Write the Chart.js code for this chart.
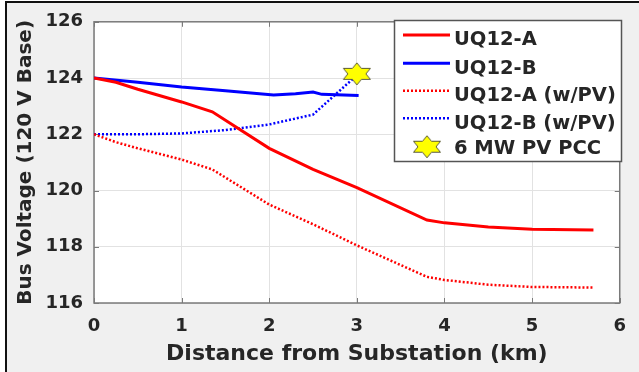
<!DOCTYPE html>
<html>
<head>
<meta charset="utf-8">
<title>Bus Voltage vs Distance</title>
<script src="https://cdn.jsdelivr.net/npm/chart.js@4/dist/chart.umd.min.js"></script>
<style>
    html, body { margin: 0; padding: 0; background: #ffffff; }
    #wrap { width: 639px; height: 372px; }
</style>
</head>
<body>
<div id="wrap"><canvas id="voltageChart" width="639" height="372"></canvas></div>
<script>
// ---------------------------------------------------------------------------
// Data (km from substation, volts on 120 V base)
// ---------------------------------------------------------------------------
const distA = [0, 0.25, 0.5, 1, 1.35, 2, 2.5, 3, 3.8, 4, 4.5, 5, 5.7];
const voltA = [124, 123.85, 123.6, 123.15, 122.8, 121.5, 120.75, 120.1, 118.95, 118.85, 118.7, 118.62, 118.6];

const distB = [0, 0.5, 1, 1.5, 2.05, 2.3, 2.5, 2.6, 3.02];
const voltB = [124, 123.85, 123.68, 123.55, 123.4, 123.44, 123.5, 123.42, 123.38];

const distAPV = [0, 0.25, 0.5, 1, 1.35, 2, 2.5, 3, 3.8, 4, 4.5, 5, 5.7];
const voltAPV = [122, 121.72, 121.5, 121.1, 120.75, 119.5, 118.8, 118.05, 116.93, 116.82, 116.65, 116.57, 116.55];

const distBPV = [0, 0.5, 1, 1.5, 2, 2.5, 3.0];
const voltBPV = [122, 122.0, 122.03, 122.15, 122.35, 122.7, 124.1];

const pccDist = [3.0];
const pccVolt = [124.15];

const seriesLabels = ['UQ12-A', 'UQ12-B', 'UQ12-A (w/PV)', 'UQ12-B (w/PV)', '6 MW PV PCC'];

const xTicks = [0, 1, 2, 3, 4, 5, 6];
const yTicks = [116, 118, 120, 122, 124, 126];

const TEXT_COLOR = '#262626';
const FONT_FAMILY = '"DejaVu Sans", sans-serif';

function toPoints(xs, ys) {
    return xs.map((x, i) => ({ x: x, y: ys[i] }));
}

// Yellow hexagram marker (drawn once, used as pointStyle)
function makeStar() {
    const c = document.createElement('canvas');
    c.width = 32;
    c.height = 26;
    const g = c.getContext('2d');
    const cx = 16, cy = 13, rx = 15.6, ry = 11;
    g.beginPath();
    for (let i = 0; i < 12; i++) {
        const a = -Math.PI / 2 + i * Math.PI / 6;
        const k = (i % 2 === 0) ? 1 : 1 / Math.sqrt(3);
        const px = cx + rx * k * Math.cos(a);
        const py = cy + ry * k * Math.sin(a);
        if (i === 0) g.moveTo(px, py); else g.lineTo(px, py);
    }
    g.closePath();
    g.fillStyle = '#ffff00';
    g.fill();
    g.lineWidth = 1;
    g.strokeStyle = '#5a5a3a';
    g.stroke();
    return c;
}
const starImg = makeStar();

// ---------------------------------------------------------------------------
// Plugins: figure background, axes box, legend
// ---------------------------------------------------------------------------
const figureBackground = {
    id: 'figureBackground',
    beforeDraw(chart) {
        const ctx = chart.ctx;
        const a = chart.chartArea;
        ctx.save();
        ctx.fillStyle = '#ffffff';
        ctx.fillRect(0, 0, chart.width, chart.height);
        ctx.fillStyle = '#f0f0f0';
        ctx.fillRect(7, 3, chart.width - 7, chart.height - 3);
        ctx.fillStyle = '#111111';
        ctx.fillRect(5, 1, chart.width - 5, 2);
        ctx.fillRect(5, 1, 2, chart.height - 1);
        ctx.fillStyle = '#ffffff';
        ctx.fillRect(a.left, a.top, a.right - a.left, a.bottom - a.top);
        ctx.restore();
    }
};

const axesBox = {
    id: 'axesBox',
    beforeDatasetsDraw(chart) {
        const ctx = chart.ctx;
        const a = chart.chartArea;
        const xs = chart.scales.x;
        const ys = chart.scales.y;
        ctx.save();
        ctx.strokeStyle = '#7a7a7a';
        ctx.lineWidth = 1.5;
        ctx.strokeRect(a.left, a.top, a.right - a.left, a.bottom - a.top);
        // small inward tick marks on all four sides
        ctx.lineWidth = 1;
        ctx.beginPath();
        xTicks.forEach(v => {
            const px = Math.round(xs.getPixelForValue(v)) + 0.5;
            ctx.moveTo(px, a.bottom); ctx.lineTo(px, a.bottom - 5);
            ctx.moveTo(px, a.top); ctx.lineTo(px, a.top + 5);
        });
        yTicks.forEach(v => {
            const py = Math.round(ys.getPixelForValue(v)) + 0.5;
            ctx.moveTo(a.left, py); ctx.lineTo(a.left + 5, py);
            ctx.moveTo(a.right, py); ctx.lineTo(a.right - 5, py);
        });
        ctx.stroke();
        ctx.restore();
    }
};

const boxLegend = {
    id: 'boxLegend',
    afterDraw(chart) {
        const ctx = chart.ctx;
        const box = { left: 394, top: 20, right: 622, bottom: 162 };
        const lineY = [35, 63.3, 90.7, 118.3, 146.7];
        const textY = [38.3, 66.7, 94, 121.5, 147];
        ctx.save();
        ctx.fillStyle = '#ffffff';
        ctx.fillRect(box.left, box.top, box.right - box.left, box.bottom - box.top);
        ctx.strokeStyle = '#555555';
        ctx.lineWidth = 1.5;
        ctx.strokeRect(box.left + 0.5, box.top + 0.5, box.right - box.left - 1, box.bottom - box.top - 1);

        chart.data.datasets.forEach((ds, i) => {
            if (ds.pointStyle === starImg) {
                ctx.drawImage(starImg, 427 - starImg.width / 2, lineY[i] - starImg.height / 2);
            } else {
                ctx.beginPath();
                ctx.strokeStyle = ds.borderColor;
                ctx.lineWidth = ds.borderWidth;
                ctx.setLineDash(ds.borderDash || []);
                ctx.moveTo(403, lineY[i]);
                ctx.lineTo(450, lineY[i]);
                ctx.stroke();
                ctx.setLineDash([]);
            }
            ctx.fillStyle = TEXT_COLOR;
            ctx.font = 'bold 19.5px ' + FONT_FAMILY;
            ctx.textBaseline = 'alphabetic';
            ctx.textAlign = 'left';
            ctx.fillText(ds.label, 454, textY[i] + 7);
        });
        ctx.restore();
    }
};

// ---------------------------------------------------------------------------
// Chart
// ---------------------------------------------------------------------------
const tickFont = { family: FONT_FAMILY, size: 18, weight: 'bold' };

new Chart(document.getElementById('voltageChart'), {
    type: 'scatter',
    data: {
        datasets: [
            {
                label: seriesLabels[0],
                data: toPoints(distA, voltA),
                showLine: true,
                borderColor: '#ff0000',
                borderWidth: 3,
                pointRadius: 0
            },
            {
                label: seriesLabels[1],
                data: toPoints(distB, voltB),
                showLine: true,
                borderColor: '#0000ff',
                borderWidth: 3,
                pointRadius: 0
            },
            {
                label: seriesLabels[2],
                data: toPoints(distAPV, voltAPV),
                showLine: true,
                borderColor: '#ff0000',
                borderWidth: 2.5,
                borderDash: [2, 2],
                pointRadius: 0
            },
            {
                label: seriesLabels[3],
                data: toPoints(distBPV, voltBPV),
                showLine: true,
                borderColor: '#0000ff',
                borderWidth: 2.5,
                borderDash: [2, 2],
                pointRadius: 0
            },
            {
                label: seriesLabels[4],
                data: toPoints(pccDist, pccVolt),
                showLine: false,
                pointStyle: starImg,
                pointRadius: 12,
                order: -1
            }
        ]
    },
    options: {
        responsive: false,
        animation: false,
        layout: {
            padding: { left: 0, right: 17, top: 20, bottom: 0 }
        },
        plugins: {
            legend: { display: false },
            tooltip: { enabled: false }
        },
        scales: {
            x: {
                type: 'linear',
                min: 0,
                max: 6,
                afterBuildTicks: (scale) => { scale.ticks = xTicks.map(v => ({ value: v })); },
                afterFit: (scale) => { scale.height = 69; },
                ticks: {
                    color: TEXT_COLOR,
                    font: tickFont,
                    padding: 13,
                    maxRotation: 0
                },
                grid: {
                    color: '#e2e2e2',
                    drawTicks: false
                },
                border: { display: false },
                title: {
                    display: true,
                    text: 'Distance from Substation (km)',
                    color: TEXT_COLOR,
                    font: { family: FONT_FAMILY, size: 22, weight: 'bold' },
                    padding: { top: 0, bottom: 5 }
                }
            },
            y: {
                type: 'linear',
                min: 116,
                max: 126,
                afterBuildTicks: (scale) => { scale.ticks = yTicks.map(v => ({ value: v })); },
                afterFit: (scale) => { scale.width = 94; },
                ticks: {
                    color: TEXT_COLOR,
                    font: tickFont,
                    padding: 11
                },
                grid: {
                    color: '#e2e2e2',
                    drawTicks: false
                },
                border: { display: false },
                title: {
                    display: true,
                    text: 'Bus Voltage (120 V Base)',
                    color: TEXT_COLOR,
                    font: { family: FONT_FAMILY, size: 20, weight: 'bold' },
                    padding: { top: 14, bottom: 0 }
                }
            }
        }
    },
    plugins: [figureBackground, axesBox, boxLegend]
});
</script>
</body>
</html>
